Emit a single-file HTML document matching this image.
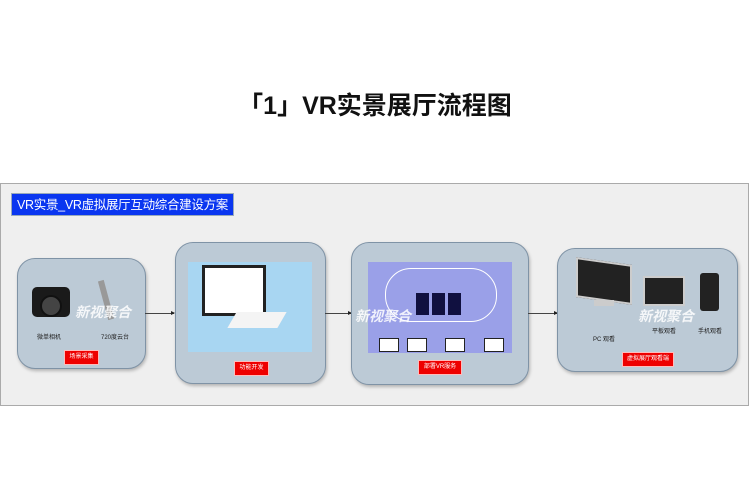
<!DOCTYPE html><html><head><meta charset="utf-8"><style>
body{margin:0;width:750px;height:480px;background:#fff;position:relative;overflow:hidden;font-family:"Liberation Sans","Noto Sans CJK SC",sans-serif}
.a{position:absolute}
.box{position:absolute;background:#bccad6;border:1.5px solid #7f93a6;border-radius:18px;box-shadow:1px 2px 3px rgba(0,0,0,.25)}
.lbl{position:absolute;background:#e00;color:#fff;font-size:6px;text-align:center;line-height:13px;border:1px solid #fbb;white-space:nowrap}
.ar{position:absolute;height:1px;background:#444}
.ar:after{content:"";position:absolute;right:-1px;top:-2px;border-left:4px solid #222;border-top:2.5px solid transparent;border-bottom:2.5px solid transparent}
.t{position:absolute;font-size:6px;color:#222;white-space:nowrap}
.wm{position:absolute;color:rgba(255,255,255,.85);font-size:14px;font-style:italic;font-weight:bold;white-space:nowrap}
</style></head><body>
<div class="a" style="left:0;top:86px;width:750px;text-align:center;font-size:25px;font-weight:bold;color:#111;white-space:nowrap">「1」VR实景展厅流程图</div>
<div class="a" style="left:0;top:183px;width:747px;height:221px;background:#efefef;border:1px solid #aaa"></div>
<div class="a" style="left:11px;top:193px;width:223px;height:23px;background:#0a36f0;color:#fff;font-size:12.5px;line-height:22px;padding-left:5px;box-sizing:border-box;border:1px solid #9ab;white-space:nowrap;overflow:hidden;letter-spacing:-0.3px">VR实景_VR虚拟展厅互动综合建设方案</div>

<div class="box" style="left:17px;top:258px;width:127px;height:109px"></div>
<div class="a" style="left:32px;top:287px;width:38px;height:30px;background:#1a1a1a;border-radius:5px"></div>
<div class="a" style="left:40px;top:295px;width:18px;height:18px;background:#444;border-radius:50%;border:2px solid #111"></div>
<div class="a" style="left:103px;top:280px;width:6px;height:40px;background:#999;transform:rotate(-15deg)"></div>
<div class="wm" style="left:75px;top:302px">新视聚合</div>
<div class="t" style="left:37px;top:332px">微单相机</div>
<div class="t" style="left:101px;top:332px">720度云台</div>
<div class="lbl" style="left:64px;top:350px;width:33px">场景采集</div>

<div class="ar" style="left:145px;top:313px;width:29px"></div>
<div class="box" style="left:175px;top:242px;width:149px;height:140px"></div>
<div class="a" style="left:188px;top:262px;width:124px;height:90px;background:#a8d6f2"></div>
<div class="a" style="left:202px;top:265px;width:58px;height:45px;background:#fff;border:3px solid #222"></div>
<div class="a" style="left:232px;top:312px;width:50px;height:16px;background:#f4f4f4;transform:skewX(-30deg)"></div>
<div class="lbl" style="left:234px;top:361px;width:33px">功能开发</div>

<div class="ar" style="left:325px;top:313px;width:26px"></div>
<div class="box" style="left:351px;top:242px;width:176px;height:141px"></div>
<div class="a" style="left:368px;top:262px;width:144px;height:91px;background:#9aa0e8"></div>
<div class="a" style="left:385px;top:268px;width:110px;height:52px;border:1.5px solid #fff;border-radius:26px"></div>
<div class="a" style="left:416px;top:293px;width:13px;height:22px;background:#101040"></div>
<div class="a" style="left:432px;top:293px;width:13px;height:22px;background:#101040"></div>
<div class="a" style="left:448px;top:293px;width:13px;height:22px;background:#101040"></div>
<div class="a" style="left:379px;top:338px;width:18px;height:12px;background:#fff;border:1px solid #222"></div>
<div class="a" style="left:407px;top:338px;width:18px;height:12px;background:#fff;border:1px solid #222"></div>
<div class="a" style="left:445px;top:338px;width:18px;height:12px;background:#fff;border:1px solid #222"></div>
<div class="a" style="left:484px;top:338px;width:18px;height:12px;background:#fff;border:1px solid #222"></div>
<div class="wm" style="left:355px;top:306px">新视聚合</div>
<div class="lbl" style="left:418px;top:360px;width:42px">部署VR服务</div>

<div class="ar" style="left:528px;top:313px;width:29px"></div>
<div class="box" style="left:557px;top:248px;width:179px;height:122px"></div>
<div class="a" style="left:576px;top:261px;width:52px;height:36px;background:#222;border:2px solid #ccc;transform:skewY(8deg)"></div>
<div class="a" style="left:594px;top:300px;width:20px;height:6px;background:#ccc"></div>
<div class="a" style="left:643px;top:276px;width:38px;height:26px;background:#222;border:2px solid #ccc"></div>
<div class="a" style="left:700px;top:273px;width:19px;height:38px;background:#222;border-radius:3px"></div>
<div class="wm" style="left:638px;top:306px">新视聚合</div>
<div class="t" style="left:593px;top:334px">PC 观看</div>
<div class="t" style="left:652px;top:326px">平板观看</div>
<div class="t" style="left:698px;top:326px">手机观看</div>
<div class="lbl" style="left:622px;top:352px;width:50px">虚拟展厅观看端</div>
</body></html>
